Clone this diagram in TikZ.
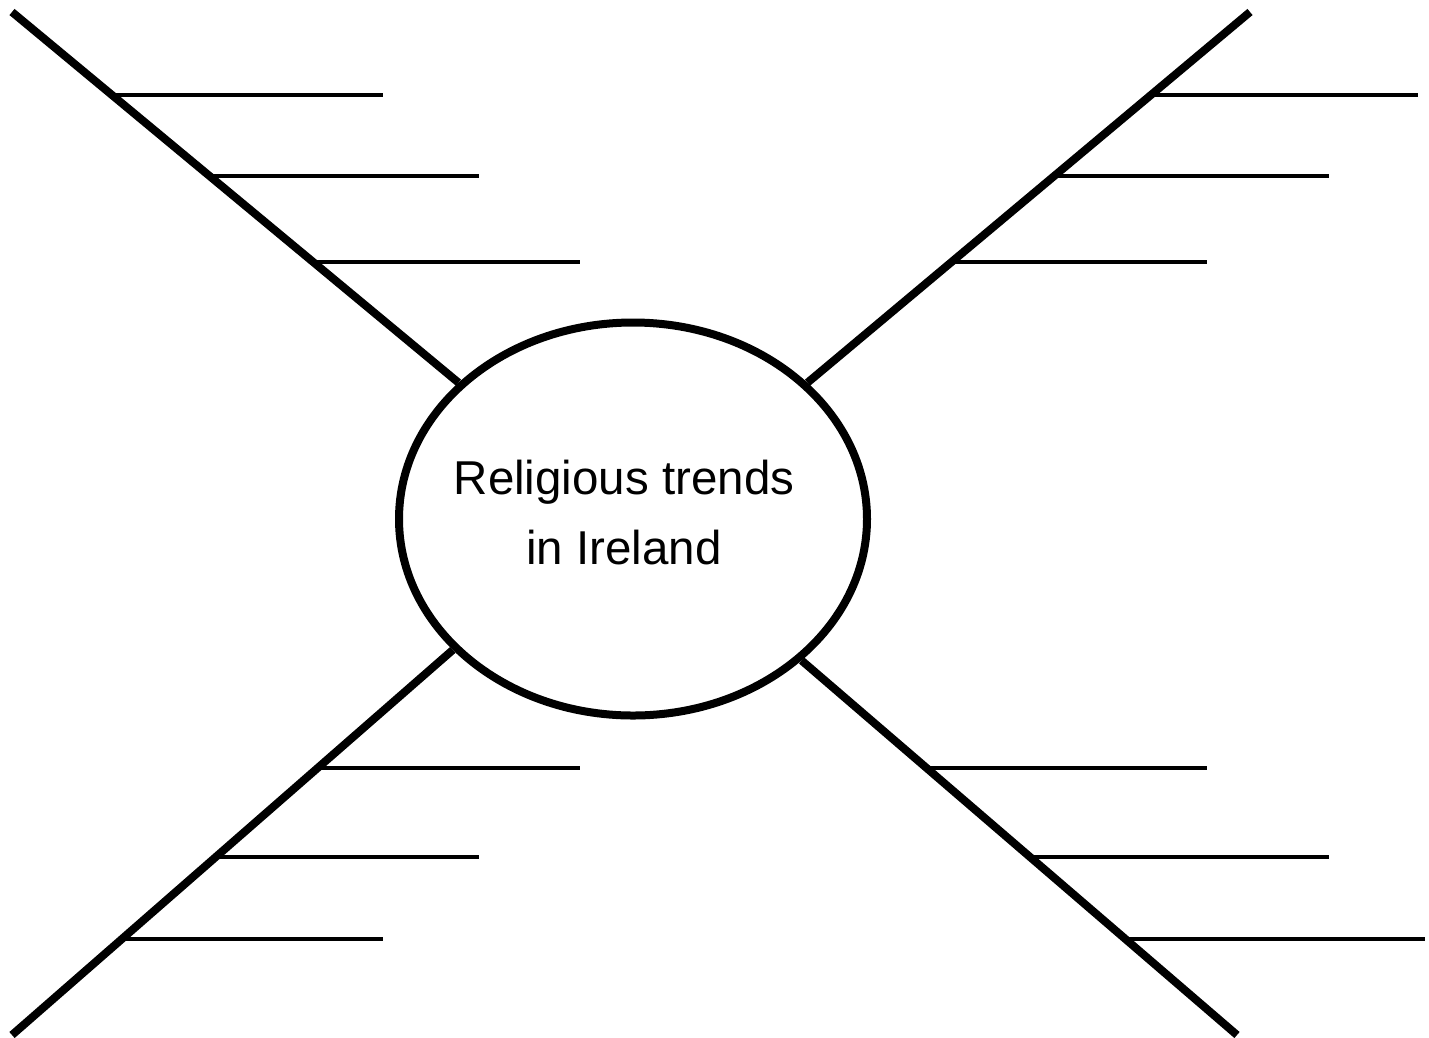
\documentclass[tikz,border=0pt]{standalone}
\usepackage{fontspec}
\setmainfont{Liberation Sans}
\usetikzlibrary{shapes.geometric}

\begin{document}
\begin{tikzpicture}[x=1pt, y=-1pt,
    spoke/.style={line width=8pt},
    tick/.style={line width=3.5pt},
    hubnode/.style={ellipse, draw, line width=8pt, minimum width=468pt,
        minimum height=393pt, inner sep=0pt, text height=4.5pt, text depth=0pt,
        font=\fontsize{47.5}{70}\selectfont}]
    \useasboundingbox (0,0) rectangle (1429,1037);
    % centre
    \node[hubnode] (hub) at (633,519)
        {\hspace*{-9pt}\makebox[0pt]{\begin{tabular}{@{}c@{}}Religious trends\\in Ireland\end{tabular}}\hspace*{9pt}};
    % spokes
    \coordinate (tl) at (12,12);
    \coordinate (tr) at (1250,12);
    \coordinate (bl) at (12,1035);
    \coordinate (br) at (1237,1035);
    \draw[spoke] (tl) -- (hub.142.5);
    \draw[spoke] (tr) -- (hub.38);
    \draw[spoke] (bl) -- (hub.216.5);
    \draw[spoke] (br) -- (hub.320.5);
    % writing lines
    \foreach \i/\xa/\xb/\y in {1/111/383/95, 2/209/479/176, 3/312/580/262} {
        \coordinate (tl\i) at (\xa,\y);
        \coordinate (tl\i e) at (\xb,\y);
        \draw[tick] (tl\i) -- (tl\i e);
    }
    \foreach \i/\xa/\xb/\y in {1/1152/1418/95, 2/1053/1329/176, 3/950/1207/262} {
        \coordinate (tr\i) at (\xa,\y);
        \coordinate (tr\i e) at (\xb,\y);
        \draw[tick] (tr\i) -- (tr\i e);
    }
    \foreach \i/\xa/\xb/\y in {1/122/383/939, 2/217/479/857, 3/319/580/768} {
        \coordinate (bl\i) at (\xa,\y);
        \coordinate (bl\i e) at (\xb,\y);
        \draw[tick] (bl\i) -- (bl\i e);
    }
    \foreach \i/\xa/\xb/\y in {1/1126/1425/939, 2/1032/1329/857, 3/929/1207/768} {
        \coordinate (br\i) at (\xa,\y);
        \coordinate (br\i e) at (\xb,\y);
        \draw[tick] (br\i) -- (br\i e);
    }
\end{tikzpicture}
\end{document}
